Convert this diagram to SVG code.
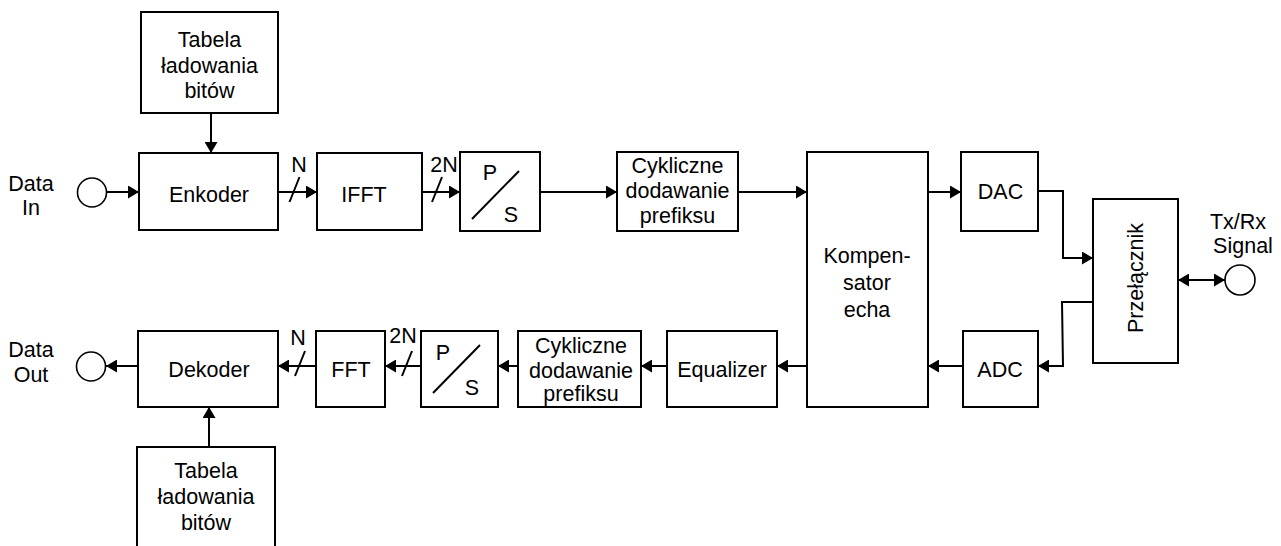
<svg xmlns="http://www.w3.org/2000/svg" width="1281" height="546" viewBox="0 0 1281 546">
  <style>
    .box { fill: #ffffff; stroke: #000000; stroke-width: 2; }
    .wire { fill: none; stroke: #000000; stroke-width: 2; }
    .arrow { marker-end: url(#head); }
    .port { fill: #ffffff; stroke: #000000; stroke-width: 1.6; }
    text { font-family: "Liberation Sans", Arial, Helvetica, sans-serif; font-size: 21.5px; fill: #000000; text-anchor: middle; }
  </style>
  <defs>
    <marker id="head" markerUnits="userSpaceOnUse" markerWidth="12" markerHeight="13" refX="11" refY="6.5" orient="auto">
      <path d="M0,0 L11,6.5 L0,13 Z" fill="#000000"/>
    </marker>
    <marker id="headBoth" markerUnits="userSpaceOnUse" markerWidth="12" markerHeight="13" refX="11" refY="6.5" orient="auto-start-reverse">
      <path d="M0,0 L11,6.5 L0,13 Z" fill="#000000"/>
    </marker>
  </defs>

  <rect width="1281" height="546" fill="#ffffff"/>

  <!-- connectors -->
  <g id="connectors">
    <!-- transmit path -->
    <line class="wire arrow" x1="106" y1="192" x2="139" y2="192"/>
    <line class="wire arrow" x1="211" y1="113" x2="211" y2="153"/>
    <line class="wire arrow" x1="278" y1="192" x2="317" y2="192"/>
    <line class="wire" x1="289.5" y1="202" x2="299.5" y2="177"/>
    <line class="wire arrow" x1="422" y1="192" x2="460" y2="192"/>
    <line class="wire" x1="432" y1="202" x2="442" y2="177"/>
    <line class="wire arrow" x1="540" y1="192" x2="617" y2="192"/>
    <line class="wire arrow" x1="738" y1="192" x2="807" y2="192"/>
    <line class="wire arrow" x1="928" y1="192" x2="961" y2="192"/>
    <polyline class="wire arrow" points="1038,191 1063,191 1063,258 1093,258"/>
    <!-- line side -->
    <line class="wire" x1="1178" y1="280" x2="1225" y2="280" marker-start="url(#headBoth)" marker-end="url(#headBoth)"/>
    <!-- receive path -->
    <polyline class="wire arrow" points="1093,302 1062,302 1063,366 1038,366"/>
    <line class="wire arrow" x1="963" y1="366" x2="928" y2="366"/>
    <line class="wire arrow" x1="807" y1="366" x2="777" y2="366"/>
    <line class="wire arrow" x1="667" y1="366" x2="641" y2="366"/>
    <line class="wire arrow" x1="518" y1="366" x2="498" y2="366"/>
    <line class="wire arrow" x1="421" y1="366" x2="385" y2="366"/>
    <line class="wire" x1="402" y1="376" x2="412" y2="351"/>
    <line class="wire arrow" x1="316" y1="366" x2="278" y2="366"/>
    <line class="wire" x1="295" y1="376" x2="305" y2="351"/>
    <line class="wire arrow" x1="138" y1="366" x2="106" y2="366"/>
    <line class="wire arrow" x1="209" y1="447" x2="209" y2="407"/>
    <!-- bus widths -->
    <text x="299" y="172">N</text>
    <text x="444" y="172">2N</text>
    <text x="298" y="345">N</text>
    <text x="403" y="343">2N</text>
  </g>

  <!-- ports -->
  <g id="data-in">
    <circle class="port" cx="92" cy="192.5" r="14.5"/>
    <text x="31" y="191">Data</text>
    <text x="31" y="215">In</text>
  </g>
  <g id="data-out">
    <circle class="port" cx="91" cy="366.5" r="14.5"/>
    <text x="31" y="357">Data</text>
    <text x="31" y="382">Out</text>
  </g>
  <g id="txrx-signal">
    <circle class="port" cx="1240" cy="280" r="15"/>
    <text x="1238" y="229">Tx/Rx</text>
    <text x="1243" y="253">Signal</text>
  </g>

  <!-- transmit blocks -->
  <g id="bit-table-tx">
    <rect class="box" x="141" y="12" width="137" height="101"/>
    <text x="209.5" y="47">Tabela</text>
    <text x="209.5" y="73">ładowania</text>
    <text x="209.5" y="98">bitów</text>
  </g>
  <g id="encoder">
    <rect class="box" x="139" y="153" width="139" height="77"/>
    <text x="209" y="202">Enkoder</text>
  </g>
  <g id="ifft">
    <rect class="box" x="317" y="153" width="105" height="77"/>
    <text x="364" y="202">IFFT</text>
  </g>
  <g id="ps-tx">
    <rect class="box" x="460" y="152" width="80" height="79"/>
    <line class="wire" x1="472" y1="219" x2="519" y2="171"/>
    <text x="490" y="180">P</text>
    <text x="511" y="222">S</text>
  </g>
  <g id="prefix-tx">
    <rect class="box" x="617" y="152" width="121" height="79"/>
    <text x="677.5" y="173">Cykliczne</text>
    <text x="677.5" y="198">dodawanie</text>
    <text x="677.5" y="223">prefiksu</text>
  </g>
  <g id="echo-canceller">
    <rect class="box" x="807" y="152" width="121" height="255"/>
    <text x="867" y="263">Kompen-</text>
    <text x="867" y="290">sator</text>
    <text x="867" y="317">echa</text>
  </g>
  <g id="dac">
    <rect class="box" x="961" y="152" width="77" height="79"/>
    <text x="1000.5" y="199">DAC</text>
  </g>
  <g id="adc">
    <rect class="box" x="963" y="331" width="75" height="76"/>
    <text x="1000" y="377">ADC</text>
  </g>
  <g id="switch">
    <rect class="box" x="1093" y="199" width="85" height="164"/>
    <text x="0" y="0" transform="translate(1143,278) rotate(-90)">Przełącznik</text>
  </g>

  <!-- receive blocks -->
  <g id="equalizer">
    <rect class="box" x="667" y="331" width="110" height="76"/>
    <text x="722" y="377">Equalizer</text>
  </g>
  <g id="prefix-rx">
    <rect class="box" x="518" y="331" width="123" height="76"/>
    <text x="581" y="353">Cykliczne</text>
    <text x="581" y="378">dodawanie</text>
    <text x="581" y="401">prefiksu</text>
  </g>
  <g id="ps-rx">
    <rect class="box" x="421" y="331" width="77" height="76"/>
    <line class="wire" x1="433" y1="393" x2="480" y2="345"/>
    <text x="443" y="360">P</text>
    <text x="472" y="395">S</text>
  </g>
  <g id="fft">
    <rect class="box" x="316" y="331" width="69" height="76"/>
    <text x="351" y="377">FFT</text>
  </g>
  <g id="decoder">
    <rect class="box" x="138" y="331" width="140" height="76"/>
    <text x="209" y="377">Dekoder</text>
  </g>
  <g id="bit-table-rx">
    <rect class="box" x="137" y="447" width="138" height="110"/>
    <text x="206" y="478">Tabela</text>
    <text x="206" y="504">ładowania</text>
    <text x="206" y="530">bitów</text>
  </g>
</svg>
